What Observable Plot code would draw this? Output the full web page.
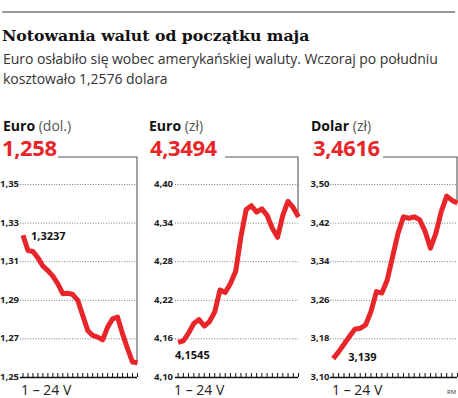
<!DOCTYPE html>
<html><head><meta charset="utf-8">
<script src="https://cdn.jsdelivr.net/npm/d3@7"></script>
<script src="https://cdn.jsdelivr.net/npm/@observablehq/plot@0.6"></script>
<style>
html,body{margin:0;padding:0;background:#fff;}
#root{position:relative;width:458px;height:398px;overflow:hidden;font-family:"Open Sans",sans-serif;}
#root svg{position:absolute;}
</style></head><body>
<div id="root"></div>
<script>
// ---- data ----
const days = [1,2,3,4,5,6,7,8,9,10,11,12,13,14,15,16,17,18,19,20,21,22,23,24];
const eurUsd = [1.3237,1.3158,1.3153,1.3120,1.3077,1.3054,1.3025,1.2985,1.2934,1.2937,1.2930,1.2900,1.2821,1.2744,1.2718,1.2709,1.2695,1.2761,1.2804,1.2813,1.2726,1.2649,1.2580,1.2576];
const eurPln = [4.1545,4.157,4.169,4.184,4.190,4.180,4.187,4.202,4.236,4.232,4.246,4.265,4.319,4.361,4.367,4.357,4.362,4.352,4.332,4.318,4.352,4.374,4.364,4.3494];
const usdPln = [3.139,3.153,3.169,3.185,3.200,3.202,3.209,3.237,3.278,3.275,3.302,3.351,3.399,3.433,3.430,3.433,3.427,3.403,3.368,3.399,3.444,3.476,3.467,3.4616];
const ticksEurUsd = [1.25,1.27,1.29,1.31,1.33,1.35];
const ticksEurPln = [4.10,4.16,4.22,4.28,4.34,4.40];
const ticksUsdPln = [3.10,3.18,3.26,3.34,3.42,3.50];
const headNames = ["Euro","Euro","Dolar"];
const headUnits = [" (dol.)"," (zł)"," (zł)"];
const lastValues = ["1,258","4,3494","3,4616"];
const firstLabels = ["1,3237","4,1545","3,139"];
const title = "Notowania walut od początku maja";
const subtitle = ["Euro osłabiło się wobec amerykańskiej waluty. Wczoraj po południu","kosztowało 1,2576 dolara"];
const periodLabel = "1 – 24 V";
const credit = "RM";

const RED = "#e8262a";
const fmt = d => d.toFixed(2).replace(".", ",");
const root = document.getElementById("root");

function panel(values, ticks, cfg) {
  const data = days.map((d, i) => ({day: d, value: values[i]}));
  const ymin = ticks[0];
  const top = 140;
  const chart = Plot.plot({
    width: cfg.width, height: 258,
    marginTop: 44, marginBottom: 21, marginLeft: cfg.ml, marginRight: cfg.mr,
    style: {background: "transparent", overflow: "visible"},
    x: {domain: [0.5, 24], axis: null},
    y: {domain: [ticks[0], ticks[ticks.length - 1]], axis: null},
    marks: [
      Plot.ruleY(ticks.slice(1), {stroke: "#777", strokeDasharray: "1,1.6", strokeWidth: 1}),
      Plot.ruleY([ymin], {stroke: "#111", strokeWidth: 1.4}),
      Plot.ruleX(days, {x: d => d, y1: ymin, y2: ymin, insetTop: -4, stroke: "#111", strokeWidth: 1}),
      Plot.axisY({ticks, tickFormat: fmt, tickSize: 0, tickPadding: cfg.pad, fontSize: 9.5, fontWeight: "bold", fill: "#222", label: null, fontFamily: "Open Sans", dy: -0.5, letterSpacing: "-0.2px"}),
      (index, scales) => {
        const x = scales.x(24), y = scales.y(values[values.length - 1]);
        return d3.create("svg:path")
          .attr("d", `M${cfg.bx},${157 - top}H${x}V${y}`)
          .attr("fill", "none").attr("stroke", "#555").attr("stroke-width", 1.1).node();
      },
      Plot.line(data, {x: "day", y: "value", stroke: RED, strokeWidth: 5, strokeLinejoin: "round", strokeLinecap: "butt"}),
      Plot.text([data[0]], {x: "day", y: "value", text: () => cfg.label, dx: cfg.dx, dy: cfg.dy, textAnchor: "start", fontSize: 11, fontWeight: "bold", fill: "#111", fontFamily: "Open Sans", letterSpacing: "-0.4px"})
    ]
  });
  chart.style.left = cfg.left + "px";
  chart.style.top = top + "px";
  root.appendChild(chart);
}

panel(eurUsd, ticksEurUsd, {left: 0, width: 140, ml: 20, mr: 3, pad: 1.5, bx: 58, label: firstLabels[0], dx: 8, dy: 1});
panel(eurPln, ticksEurPln, {left: 145, width: 155, ml: 30, mr: 2, pad: 2.5, bx: 80, label: firstLabels[1], dx: -3, dy: 13});
panel(usdPln, ticksUsdPln, {left: 300, width: 158, ml: 30, mr: 1, pad: 1, bx: 83, label: firstLabels[2], dx: 15, dy: -1});

// ---- overlay texts ----
const ov = d3.select(root).append("svg").attr("width", 458).attr("height", 398).style("left", 0).style("top", 0).style("pointer-events", "none");
ov.append("line").attr("x1", 2).attr("x2", 455).attr("y1", 12).attr("y2", 12).attr("stroke", "#777").attr("stroke-width", 1.5);
ov.append("text").attr("x", 2).attr("y", 41).text(title)
  .attr("font-family", "DejaVu Serif").attr("font-weight", "bold").attr("font-size", 15.7).attr("fill", "#111");
subtitle.forEach((s, i) => ov.append("text").attr("x", 3).attr("y", 64 + i * 20).text(s)
  .attr("font-family", "Open Sans").attr("font-size", 14).attr("fill", "#333").attr("letter-spacing", "-0.05"));
const hx = [3, 149, 311], nx = [2, 150, 313], px = [21, 174, 332];
hx.forEach((x, i) => {
  const t = ov.append("text").attr("x", x).attr("y", 131).attr("font-family", "Open Sans").attr("font-size", 14).attr("fill", "#111");
  t.append("tspan").attr("font-weight", "bold").text(headNames[i]);
  t.append("tspan").attr("fill", "#555").text(headUnits[i]);
  ov.append("text").attr("x", nx[i]).attr("y", 156).text(lastValues[i])
    .attr("font-family", "Open Sans").attr("font-weight", "bold").attr("font-size", 22).attr("fill", RED).attr("letter-spacing", "-0.4");
  ov.append("text").attr("x", px[i]).attr("y", 394.5).text(periodLabel)
    .attr("font-family", "Open Sans").attr("font-size", 14).attr("fill", "#222");
});
ov.append("text").attr("x", 447).attr("y", 394).text(credit).attr("font-family", "Open Sans").attr("font-size", 6).attr("fill", "#333");
</script>
</body></html>
